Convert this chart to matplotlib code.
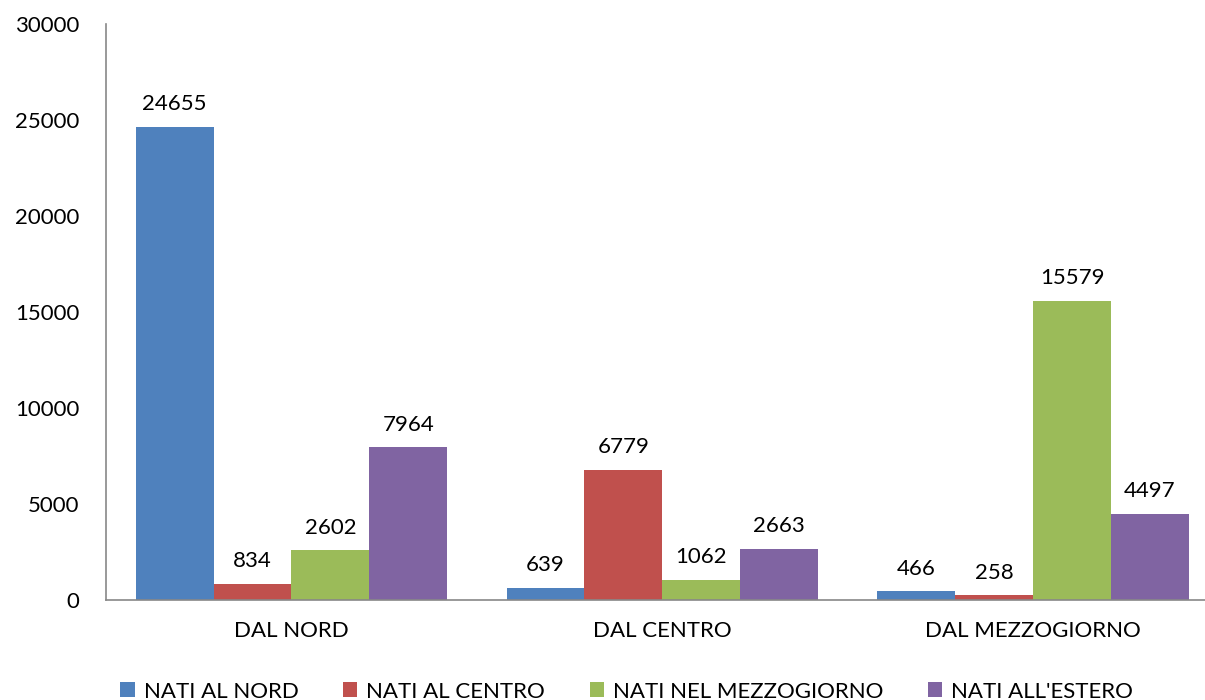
import numpy as np
import matplotlib.pyplot as plt

categories = ['DAL NORD', 'DAL CENTRO', 'DAL MEZZOGIORNO']
series_names = ['NATI AL NORD', 'NATI AL CENTRO', 'NATI NEL MEZZOGIORNO', "NATI ALL'ESTERO"]
nati_nord = [24655, 639, 466]
nati_centro = [834, 6779, 258]
nati_mezzogiorno = [2602, 1062, 15579]
nati_estero = [7964, 2663, 4497]
colors = ['#4F81BD', '#C0504D', '#9BBB59', '#8064A2']

plt.rcParams['font.family'] = ['Lato', 'DejaVu Sans']

fig = plt.figure(figsize=(12.05, 7.0), dpi=100)
ax = fig.add_axes([106 / 1205, 100 / 700, 1112.5 / 1205, 576 / 700])

x = np.arange(len(categories))
width = 0.21
all_series = [nati_nord, nati_centro, nati_mezzogiorno, nati_estero]
for i, (vals, name) in enumerate(zip(all_series, series_names)):
    bars = ax.bar(x + (i - 1.5) * width, vals, width, color=colors[i], label=name)
    ax.bar_label(bars, padding=9, fontsize=16)

ax.set_xlim(-0.5, 2.5)
ax.set_ylim(0, 30000)
ax.set_yticks(range(0, 30001, 5000))
ax.set_xticks(x)
ax.set_xticklabels(categories)
ax.tick_params(axis='both', length=0, labelsize=16)
ax.tick_params(axis='x', pad=15)
ax.tick_params(axis='y', pad=19)

for s in ['top', 'right']:
    ax.spines[s].set_visible(False)
for s in ['left', 'bottom']:
    ax.spines[s].set_color('#888888')
    ax.spines[s].set_linewidth(1.2)

fig.legend(loc='center', bbox_to_anchor=(0.52, 0.012), ncol=4, frameon=False,
           fontsize=16, handlelength=0.65, handleheight=0.65, handletextpad=0.4,
           columnspacing=2.0)

fig.savefig('out.png', dpi=100)
